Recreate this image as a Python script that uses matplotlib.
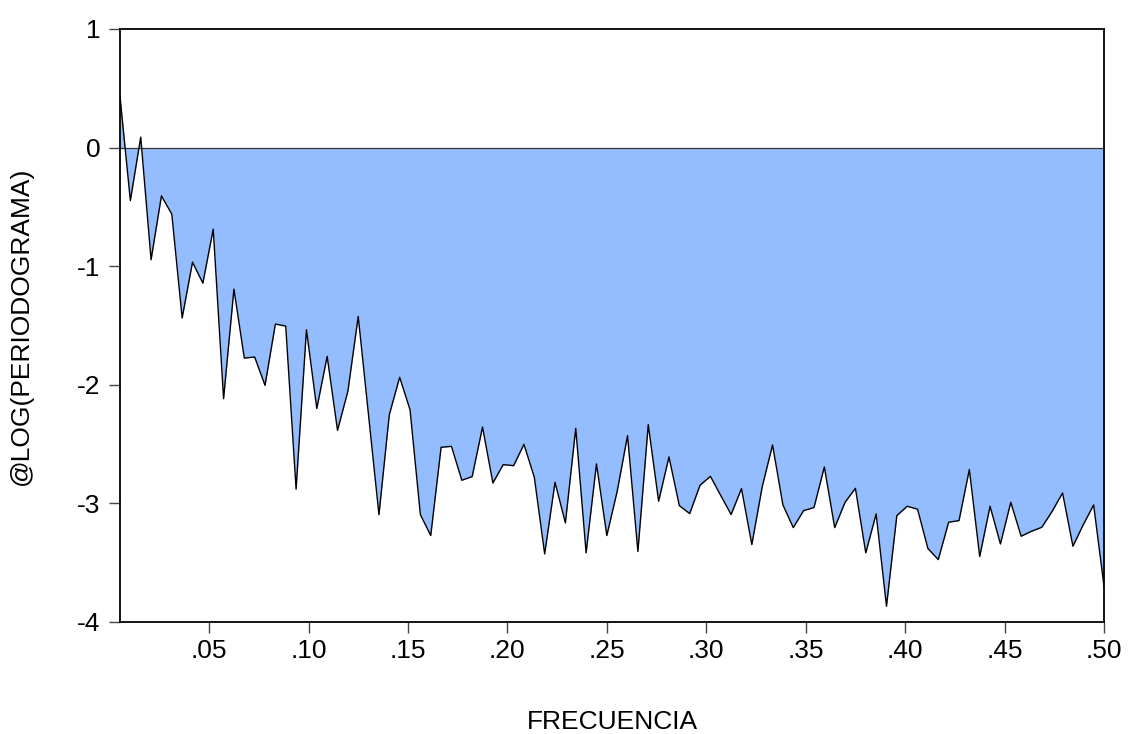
import matplotlib.pyplot as plt
import numpy as np

plt.rcParams['font.family'] = ['Liberation Sans', 'DejaVu Sans']
plt.rcParams['axes.unicode_minus'] = False

# periodogram ordinates, frequencies k/192, k = 1..96
n_obs = 192
log_periodogram = [
    0.43, -0.447, 0.088, -0.946, -0.407, -0.561, -1.437, -0.966, -1.143, -0.688,
    -2.117, -1.193, -1.775, -1.766, -2.005, -1.488, -1.505, -2.88, -1.536, -2.2,
    -1.76, -2.384, -2.055, -1.424, -2.26, -3.095, -2.252, -1.937, -2.21, -3.095,
    -3.271, -2.527, -2.519, -2.805, -2.774, -2.356, -2.828, -2.673, -2.682, -2.502,
    -2.78, -3.426, -2.822, -3.165, -2.367, -3.417, -2.667, -3.271, -2.898, -2.429,
    -3.406, -2.336, -2.982, -2.608, -3.019, -3.086, -2.847, -2.772, -2.934, -3.094,
    -2.875, -3.347, -2.861, -2.507, -3.013, -3.204, -3.061, -3.035, -2.693, -3.204,
    -2.991, -2.873, -3.417, -3.089, -3.867, -3.103, -3.024, -3.049, -3.381, -3.474,
    -3.159, -3.145, -2.715, -3.448, -3.024, -3.342, -2.991, -3.277, -3.235, -3.201,
    -3.066, -2.912, -3.361, -3.179, -3.013, -3.698,
]
x_ticks = [0.05, 0.10, 0.15, 0.20, 0.25, 0.30, 0.35, 0.40, 0.45, 0.50]
x_tick_labels = [".05", ".10", ".15", ".20", ".25", ".30", ".35", ".40", ".45", ".50"]
y_ticks = [-4, -3, -2, -1, 0, 1]

freq = np.arange(1, len(log_periodogram) + 1) / n_obs
y = np.array(log_periodogram)

fig = plt.figure(figsize=(11.3, 7.34), dpi=100)
ax = fig.add_axes([0.1062, 0.1526, 0.8708, 0.8079])

ax.fill_between(freq, y, 0, color='#94bdff', linewidth=0)
ax.axhline(0, color='#333333', linewidth=0.9)
ax.plot(freq, y, color='black', linewidth=1.0)

ax.set_xlim(freq[0], 0.5)
ax.set_ylim(-4, 1)
ax.set_xticks(x_ticks)
ax.set_xticklabels(x_tick_labels)
ax.set_yticks(y_ticks)

for s in ax.spines.values():
    s.set_linewidth(1.3)
    s.set_color('black')
ax.tick_params(axis='x', direction='out', length=8, width=1, labelsize=19, pad=4, color='#444444')
ax.tick_params(axis='y', direction='out', length=8, width=1, labelsize=19, pad=6, color='#444444')

ax.set_xlabel("FRECUENCIA", fontsize=19, labelpad=34)
ax.set_ylabel("@LOG(PERIODOGRAMA)", fontsize=19, labelpad=32)

fig.savefig("out.png", dpi=100)
